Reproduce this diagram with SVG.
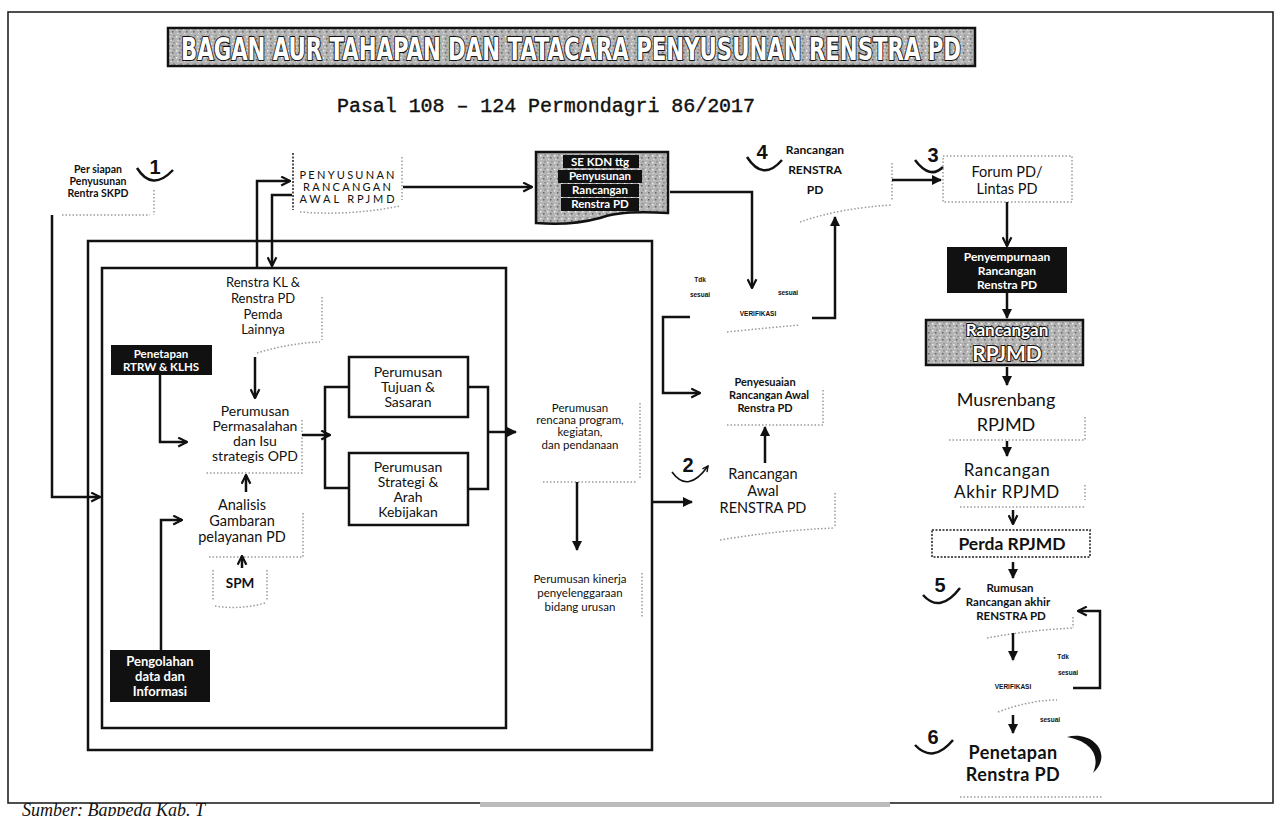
<svg xmlns="http://www.w3.org/2000/svg" width="1280" height="816" viewBox="0 0 1280 816">
<defs>
<style>
.ln{fill:none;stroke:#111;stroke-width:2.5}
.thin{fill:none;stroke:#111;stroke-width:1.6}
.faint{fill:none;stroke:#9a9a9a;stroke-width:1.5;stroke-dasharray:1.5 2}
.dark{fill:none;stroke:#555;stroke-width:2;stroke-dasharray:2 1.5}
.t{font-family:"Lato","Open Sans",sans-serif;fill:#111;text-anchor:middle}
.b{font-weight:700}
.w{fill:#fff}
.num{font-family:"Liberation Sans",sans-serif;font-weight:700;font-size:20px;fill:#111;text-anchor:middle}
.tiny{font-family:"Liberation Sans",sans-serif;font-weight:700;font-size:6.5px;fill:#111;text-anchor:middle}
.blk{fill:#111}
.grain{fill:url(#grain);stroke:#111;stroke-width:2.5}
.outl{fill:#fff;stroke:#111;stroke-width:2.2;paint-order:stroke;stroke-linejoin:round}
</style>
<pattern id="grain" width="7" height="7" patternUnits="userSpaceOnUse">
<rect width="7" height="7" fill="#b4b4b4"/>
<rect x="1" y="1" width="1.5" height="1.5" fill="#eee"/>
<rect x="4" y="3" width="1.5" height="1.5" fill="#666"/>
<rect x="2" y="5" width="1.5" height="1" fill="#ddd"/>
<rect x="5.5" y="0" width="1" height="1.5" fill="#777"/>
</pattern>
<marker id="ah" viewBox="0 0 10 10" refX="9" refY="5" markerWidth="4" markerHeight="4" orient="auto" markerUnits="strokeWidth"><path d="M0,0 L10,5 L0,10 z" fill="#111"/></marker>
<marker id="av" viewBox="0 0 10 10" refX="9" refY="5" markerWidth="4.4" markerHeight="4.4" orient="auto" markerUnits="strokeWidth"><path d="M1,1 L9,5 L1,9" fill="none" stroke="#111" stroke-width="2"/></marker>
</defs>

<rect width="1280" height="816" fill="#fff"/>
<rect x="8" y="12" width="1265" height="791" fill="none" stroke="#222" stroke-width="1.6"/>
<rect x="480" y="802" width="410" height="5" fill="#bbb"/>

<g id="title">
<rect x="168" y="28" width="807" height="38" class="grain"/>
<text x="571" y="60" font-family="DejaVu Sans Condensed, sans-serif" font-weight="700" font-size="32" text-anchor="middle" textLength="780" lengthAdjust="spacingAndGlyphs" class="outl">BAGAN AUR TAHAPAN DAN TATACARA PENYUSUNAN RENSTRA PD</text>
<text x="546" y="112" font-family="Liberation Mono, monospace" font-size="20" text-anchor="middle" textLength="418" fill="#111" stroke="#111" stroke-width="0.4">Pasal 108 – 124 Permondagri 86/2017</text>
</g>

<g id="containers">
<rect x="88" y="241" width="564" height="509" class="ln"/>
<rect x="102" y="268" width="404" height="460" class="ln"/>
</g>

<g id="node1">
<text class="t b" font-size="10.5"><tspan x="98" y="173">Per siapan</tspan><tspan x="98" y="185">Penyusunan</tspan><tspan x="98" y="197">Rentra SKPD</tspan></text>
<path d="M154,190 V215 M62,215 H150" class="faint"/>
<text x="155" y="174" class="num">1</text>
<path d="M137,168 Q152,192 173,170" class="ln"/>
</g>

<g id="penyusunan">
<path d="M293,153 V210" class="dark"/>
<path d="M402,157 V200 M300,212 Q350,216 400,206" class="faint"/>
<text class="t" font-size="11"><tspan x="347" y="179" textLength="95">PENYUSUNAN</tspan><tspan x="347" y="191" textLength="88">RANCANGAN</tspan><tspan x="347" y="203" textLength="95">AWAL RPJMD</tspan></text>
</g>

<g id="sekdn">
<path d="M536,152 H668 V213 Q620,210 600,218 Q570,226 536,223 Z" class="grain"/>
<rect x="563" y="155" width="76" height="13" class="blk"/>
<rect x="558" y="170" width="84" height="13" class="blk"/>
<rect x="561" y="184" width="78" height="13" class="blk"/>
<rect x="561" y="198" width="78" height="13" class="blk"/>
<text class="t b w" font-size="11.5"><tspan x="600" y="166">SE KDN ttg</tspan><tspan x="600" y="180">Penyusunan</tspan><tspan x="600" y="194">Rancangan</tspan><tspan x="600" y="208">Renstra PD</tspan></text>
</g>

<g id="node4">
<text x="762" y="159" class="num">4</text>
<path d="M747,157 Q763,182 782,160" class="ln"/>
<text class="t b" font-size="12"><tspan x="815" y="154">Rancangan</tspan><tspan x="815" y="174">RENSTRA</tspan><tspan x="815" y="194">PD</tspan></text>
<path d="M892,163 V200 M800,222 Q840,208 892,205" class="faint"/>
</g>

<g id="forum">
<text x="933" y="162" class="num">3</text>
<path d="M915,160 Q930,180 943,167" class="ln"/>
<rect x="943" y="156" width="129" height="46" class="faint"/>
<text class="t" font-size="14.5"><tspan x="1007" y="177">Forum PD/</tspan><tspan x="1007" y="194">Lintas PD</tspan></text>
</g>

<g id="penyempurnaan">
<rect x="947" y="247" width="120" height="46" class="blk"/>
<text class="t b w" font-size="12"><tspan x="1007" y="261">Penyempurnaan</tspan><tspan x="1007" y="275">Rancangan</tspan><tspan x="1007" y="289">Renstra PD</tspan></text>
</g>

<g id="rancangan-rpjmd">
<rect x="926" y="320" width="157" height="45" class="grain"/>
<text x="1007" y="336" class="t b outl" font-size="17">Rancangan</text>
<text x="1007" y="361" class="t b outl" font-size="21">RPJMD</text>
</g>

<g id="musrenbang">
<text class="t" font-size="18"><tspan x="1006" y="406">Musrenbang</tspan><tspan x="1006" y="431">RPJMD</tspan></text>
<path d="M1085,417 V440 H947" class="faint"/>
</g>

<g id="rancangan-akhir">
<text class="t" font-size="17" letter-spacing="0.6"><tspan x="1007" y="476">Rancangan</tspan><tspan x="1007" y="498">Akhir RPJMD</tspan></text>
<path d="M1085,485 V500 M960,507 H1085" class="faint"/>
</g>

<g id="perda">
<rect x="932" y="530" width="158" height="27" class="dark" stroke="#777"/>
<text x="1012" y="550" class="t b" font-size="17.5">Perda RPJMD</text>
</g>

<g id="rumusan">
<text x="940" y="592" class="num">5</text>
<path d="M923,595 Q940,614 960,588" class="ln"/>
<text class="t b" font-size="11.5"><tspan x="1010" y="592">Rumusan</tspan><tspan x="1008" y="606">Rancangan akhir</tspan><tspan x="1011" y="620">RENSTRA PD</tspan></text>
<path d="M1073,617 V628 M987,638 Q1030,630 1073,628" class="faint"/>
</g>

<g id="verifikasi2">
<text x="1013" y="689" class="tiny">VERIFIKASI</text>
<path d="M998,712 Q1030,700 1057,700" class="faint"/>
<text x="1063" y="659" class="tiny">Tdk</text>
<text x="1068" y="675" class="tiny">sesuai</text>
<text x="1050" y="722" class="tiny">sesuai</text>
</g>

<g id="penetapan">
<text x="933" y="744" class="num">6</text>
<path d="M915,745 Q933,764 953,740" class="ln"/>
<text class="t b" font-size="18" letter-spacing="0.4"><tspan x="1013" y="759">Penetapan</tspan><tspan x="1013" y="781">Renstra PD</tspan></text>
<path d="M1067,737 C1092,730 1114,754 1093,773 C1101,755 1090,741 1067,737 Z" class="blk"/>
<path d="M960,797 H1103" class="faint"/>
</g>

<g id="verifikasi1">
<text x="758" y="316" class="tiny">VERIFIKASI</text>
<path d="M727,332 Q765,328 800,325" class="faint"/>
<text x="700" y="282" class="tiny">Tdk</text>
<text x="700" y="297" class="tiny">sesuai</text>
<text x="788" y="295" class="tiny">sesuai</text>
</g>

<g id="penyesuaian">
<text class="t b" font-size="11"><tspan x="765" y="386">Penyesuaian</tspan><tspan x="769" y="399">Rancangan Awal</tspan><tspan x="765" y="412">Renstra PD</tspan></text>
<path d="M823,390 V425 H727" class="faint"/>
</g>

<g id="rancangan-awal">
<text x="688" y="472" class="num" font-size="19">2</text>
<path d="M672,472 Q688,494 708,466" class="thin" marker-end="url(#av)"/>
<text class="t" font-size="14.5"><tspan x="763" y="479">Rancangan</tspan><tspan x="763" y="496">Awal</tspan><tspan x="763" y="513">RENSTRA PD</tspan></text>
<path d="M835,493 V527 M720,540 Q780,530 835,528" class="faint"/>
</g>

<g id="renstra-kl">
<text class="t" font-size="13"><tspan x="263" y="287">Renstra KL &amp;</tspan><tspan x="263" y="303">Renstra PD</tspan><tspan x="263" y="319">Pemda</tspan><tspan x="263" y="334">Lainnya</tspan></text>
<path d="M322,297 V340 M257,353 Q290,343 320,342" class="faint"/>
</g>

<g id="rtrw">
<rect x="111" y="345" width="101" height="30" class="blk"/>
<text class="t b w" font-size="11.5"><tspan x="161" y="358">Penetapan</tspan><tspan x="161" y="371">RTRW &amp; KLHS</tspan></text>
</g>

<g id="permasalahan">
<text class="t" font-size="14"><tspan x="255" y="416">Perumusan</tspan><tspan x="255" y="431">Permasalahan</tspan><tspan x="255" y="446">dan Isu</tspan><tspan x="255" y="461">strategis OPD</tspan></text>
<path d="M302,420 V473 H205" class="faint"/>
</g>

<g id="tujuan">
<rect x="349" y="357" width="119" height="60" class="ln"/>
<text class="t" font-size="14"><tspan x="408" y="377">Perumusan</tspan><tspan x="408" y="392">Tujuan &amp;</tspan><tspan x="408" y="407">Sasaran</tspan></text>
</g>

<g id="strategi">
<rect x="349" y="453" width="119" height="72" class="ln"/>
<text class="t" font-size="14"><tspan x="408" y="472">Perumusan</tspan><tspan x="408" y="487">Strategi &amp;</tspan><tspan x="408" y="502">Arah</tspan><tspan x="408" y="517">Kebijakan</tspan></text>
</g>

<g id="analisis">
<text class="t" font-size="14.5"><tspan x="242" y="510">Analisis</tspan><tspan x="242" y="526">Gambaran</tspan><tspan x="242" y="542">pelayanan PD</tspan></text>
<path d="M303,513 V557 H207" class="faint"/>
</g>

<g id="spm">
<path d="M213,570 V600 M267,570 V600 M215,606 Q240,610 265,603" class="faint"/>
<text x="240" y="588" class="t b" font-size="13.5">SPM</text>
</g>

<g id="pengolahan">
<rect x="110" y="650" width="100" height="52" class="blk"/>
<text class="t b w" font-size="13"><tspan x="160" y="666">Pengolahan</tspan><tspan x="160" y="681">data dan</tspan><tspan x="160" y="696">Informasi</tspan></text>
</g>

<g id="rencana">
<text class="t" font-size="11.5"><tspan x="580" y="412">Perumusan</tspan><tspan x="580" y="424">rencana program,</tspan><tspan x="580" y="436">kegiatan,</tspan><tspan x="580" y="449">dan pendanaan</tspan></text>
<path d="M640,403 V480 M543,482 H637" class="faint"/>
</g>

<g id="kinerja">
<text class="t" font-size="11.5"><tspan x="580" y="583">Perumusan kinerja</tspan><tspan x="580" y="597">penyelenggaraan</tspan><tspan x="580" y="611">bidang urusan</tspan></text>
<path d="M642,573 V617" class="faint"/>
</g>

<g id="connectors">
<path d="M52,215 V497 H100" class="ln" marker-end="url(#av)"/>
<path d="M257,268 V181 H290" class="ln" marker-end="url(#av)"/>
<path d="M292,195 H272 V266" class="ln" marker-end="url(#av)"/>
<path d="M403,187 H532" class="ln" marker-end="url(#av)"/>
<path d="M670,192 H752 V288" class="ln" marker-end="url(#av)"/>
<path d="M690,317 H663 V393 H700" class="ln" marker-end="url(#av)"/>
<path d="M812,318 H835 V217" class="ln" marker-end="url(#ah)"/>
<path d="M892,180 H941" class="ln" marker-end="url(#ah)"/>
<path d="M1007,202 V246" class="ln" marker-end="url(#av)"/>
<path d="M1007,293 V318" class="ln" marker-end="url(#ah)"/>
<path d="M1007,367 V385" class="ln" marker-end="url(#ah)"/>
<path d="M1007,441 V456" class="ln" marker-end="url(#ah)"/>
<path d="M1013,510 V524" class="ln" marker-end="url(#av)"/>
<path d="M1013,562 V578" class="ln" marker-end="url(#ah)"/>
<path d="M1013,633 V660" class="ln" marker-end="url(#ah)"/>
<path d="M1073,688 H1100 V611 H1078" class="ln" marker-end="url(#av)"/>
<path d="M1013,715 V733" class="ln" marker-end="url(#ah)"/>
<path d="M765,463 V427" class="ln" marker-end="url(#ah)"/>
<path d="M652,502 H692" class="ln" marker-end="url(#ah)"/>
<path d="M577,482 V550" class="ln" marker-end="url(#ah)"/>
<path d="M488,432 H516" class="ln" marker-end="url(#ah)"/>
<path d="M468,387 H488 V489 H468" class="ln"/>
<path d="M350,387 H325 V488 H350" class="ln"/>
<path d="M302,435 H330" class="ln" marker-end="url(#av)"/>
<path d="M255,357 V398" class="ln" marker-end="url(#av)"/>
<path d="M160,375 V442 H187" class="ln" marker-end="url(#av)"/>
<path d="M246,492 V475" class="ln" marker-end="url(#av)"/>
<path d="M161,652 V520 H182" class="ln" marker-end="url(#av)"/>
<path d="M242,568 V556" class="ln" marker-end="url(#av)"/>
</g>

<text x="22" y="816" font-family="Liberation Serif, serif" font-style="italic" font-size="18" fill="#111">Sumber: Bappeda Kab. T</text>
</svg>
